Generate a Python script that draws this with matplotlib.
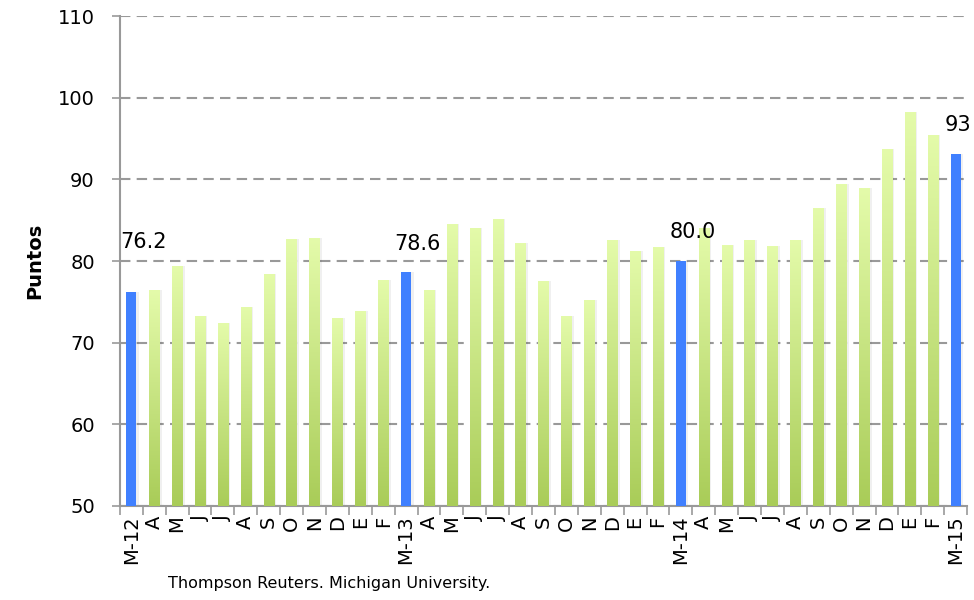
import numpy as np
import matplotlib
matplotlib.use("Agg")
import matplotlib.pyplot as plt
from matplotlib.colors import LinearSegmentedColormap

# consumer sentiment index, monthly, March 2012 - March 2015
months = ["M-12", "A", "M", "J", "J", "A", "S", "O", "N", "D", "E", "F",
          "M-13", "A", "M", "J", "J", "A", "S", "O", "N", "D", "E", "F",
          "M-14", "A", "M", "J", "J", "A", "S", "O", "N", "D", "E", "F",
          "M-15"]
values = [76.2, 76.4, 79.4, 73.3, 72.4, 74.4, 78.4, 82.7, 82.8, 73.0, 73.9, 77.7,
          78.6, 76.4, 84.5, 84.1, 85.1, 82.2, 77.5, 73.3, 75.2, 82.6, 81.2, 81.7,
          80.0, 84.1, 81.9, 82.6, 81.8, 82.6, 86.5, 89.4, 88.9, 93.7, 98.2, 95.5,
          93.1]
highlight = [0, 12, 24, 36]
highlight_labels = ["76.2", "78.6", "80.0", "93"]
label_gap = [4.9, 2.3, 2.3, 2.3]

blue = "#4080ff"
green_map = LinearSegmentedColormap.from_list("g", ["#a9cc58", "#e4fbaa"])

plt.rcParams['font.family'] = ['DejaVu Sans']

fig = plt.figure(figsize=(9.74, 6), dpi=100)
ax = fig.add_axes([0.123, 0.157, 0.87, 0.816])

x = np.arange(len(values))
width = 0.45

# soft shadow behind the bars
ax.bar(x + 0.1, np.array(values) - 50, width=width, bottom=50, color="#000000",
       alpha=0.06, zorder=2, linewidth=0)

bars = ax.bar(x, np.array(values) - 50, width=width, bottom=50, zorder=3, linewidth=0)
grad = np.linspace(0, 1, 256).reshape(-1, 1)
for i, b in enumerate(bars):
    if i in highlight:
        b.set_facecolor(blue)
    else:
        b.set_facecolor("none")
        im = ax.imshow(grad, cmap=green_map, origin="lower", aspect="auto",
                       extent=[x[i] - width / 2, x[i] + width / 2, 50, values[i]],
                       zorder=3)
        im.set_clip_path(b)

for i, lab, gap in zip(highlight, highlight_labels, label_gap):
    ax.text(x[i] - 0.5, values[i] + gap, lab, ha="left", va="bottom",
            fontsize=15, clip_on=False)

ax.set_xlim(-0.5, len(values) - 0.5)
ax.set_ylim(50, 110)
ax.set_yticks(np.arange(50, 111, 10))
ax.set_xticks(x)
ax.set_xticklabels(months, rotation=90, fontsize=14)
ax.set_xticks(np.arange(-0.5, len(values), 1), minor=True)
ax.tick_params(axis="x", which="major", length=0, pad=7)
ax.tick_params(axis="x", which="minor", length=6.5, width=1.2, color="#999999")
ax.tick_params(axis="y", length=6, width=1.2, color="#999999", labelsize=14, pad=12)

ax.yaxis.grid(True, linestyle=(0, (5, 3)), color="#999999", linewidth=1.5, zorder=1)
ax.set_axisbelow(True)

for s in ["top", "right"]:
    ax.spines[s].set_visible(False)
for s in ["left", "bottom"]:
    ax.spines[s].set_color("#999999")
    ax.spines[s].set_linewidth(1.5)

ax.set_ylabel("Puntos", fontsize=14, fontweight="bold", labelpad=10)

fig.text(0.172, 0.02, "Thompson Reuters. Michigan University.", fontsize=11.5,
         family=["Liberation Sans Narrow", "DejaVu Sans Condensed", "DejaVu Sans"])

fig.savefig("out.png", dpi=100)
